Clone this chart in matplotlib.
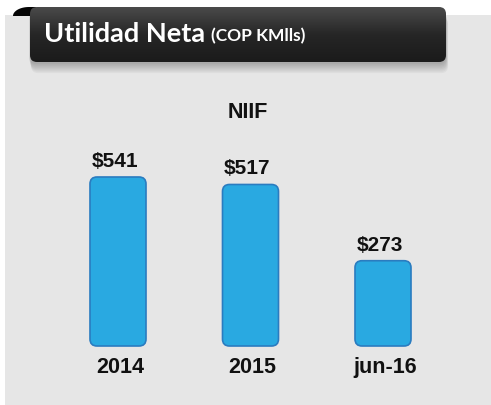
import numpy as np
import matplotlib
matplotlib.use("Agg")
import matplotlib.pyplot as plt
from matplotlib.patches import FancyBboxPatch, Rectangle, Polygon

# data
categories = ["2014", "2015", "jun-16"]
values = [541, 517, 273]
value_labels = ["$541", "$517", "$273"]
title = "Utilidad Neta"
subtitle = "(COP KMlls)"
series_name = "NIIF"

W, H = 491, 405
fig = plt.figure(figsize=(W / 100, H / 100), dpi=100)
fig.patch.set_facecolor("white")

# background decoration axes in pixel coords
bg = fig.add_axes([0, 0, 1, 1])
bg.set_xlim(0, W)
bg.set_ylim(H, 0)
bg.axis("off")

# gray panel
bg.add_patch(Rectangle((5, 15), W - 5, H - 15, facecolor="#e6e6e6", edgecolor="none", zorder=0))

# curl tab at top-left of the title box (quarter ellipse)
t = np.linspace(np.pi / 2, np.pi, 30)
tab = np.column_stack([29 + 16 * np.cos(t), 16 - 9 * np.sin(t)])
tab = np.vstack([[36, 7], tab, [36, 16]])
bg.add_patch(Polygon(tab, closed=True, facecolor="#050505", edgecolor="none", zorder=1))

# soft shadow under the title box
for k in range(8):
    bg.add_patch(FancyBboxPatch((29 + k * 0.3, 9 + k * 1.3), 417, 55,
                                boxstyle="round,pad=0,rounding_size=7",
                                facecolor="black", edgecolor="none", alpha=0.035, zorder=2))

# title box with vertical gradient
box = FancyBboxPatch((30, 7), 416, 55, boxstyle="round,pad=0,rounding_size=7",
                     facecolor="none", edgecolor="none", zorder=3)
bg.add_patch(box)
grad = np.linspace(0, 1, 100).reshape(-1, 1)
cmap = matplotlib.colors.LinearSegmentedColormap.from_list("tb", ["#4a4a4a", "#262626", "#1b1b1b"])
im = bg.imshow(grad, cmap=cmap, extent=(30, 446, 62, 7), aspect="auto", zorder=3)
im.set_clip_path(box)

t1 = bg.text(44, 41.7, title, color="white", fontsize=19.5, fontweight="bold",
             family="Lato", va="baseline", ha="left", zorder=4)
fig.canvas.draw()
r = t1.get_window_extent().x1
bg.text(r + 6, 41.7, subtitle, color="white", fontsize=12.5, fontweight="bold",
        family="Lato", va="baseline", ha="left", zorder=4)

bg.text(247.5, 117.5, series_name, color="#111111", fontsize=15.5, fontweight="bold",
        family="Liberation Sans", va="baseline", ha="center", zorder=4)

# chart axes: x=0 at px 118, 132.5 px per category; value 0 at px 346, 0.3124 px per unit
px_x, x0 = 132.5, 118
px_y, y0 = 0.3124, 346
ax = fig.add_axes([0, 0, 1, 1])
ax.patch.set_alpha(0)
ax.set_xlim(-x0 / px_x, (W - x0) / px_x)
ax.set_ylim(-(H - y0) / px_y, y0 / px_y)
ax.axis("off")

bar_w = 56 / px_x
aspect = (1 / px_y) / (1 / px_x)
for i, (v, lab, cat) in enumerate(zip(values, value_labels, categories)):
    ax.add_patch(FancyBboxPatch((i - bar_w / 2, 0), bar_w, v,
                                boxstyle="round,pad=0,rounding_size=%f" % (7 / px_x),
                                mutation_aspect=aspect,
                                facecolor="#29a9e1", edgecolor="#2a7cc0", linewidth=1.2))
    ax.annotate(lab, (i, v), xytext=(-2.5, 7.2), textcoords="offset points",
                ha="center", va="baseline", fontsize=15, fontweight="bold",
                family="Liberation Sans", color="#111111")
    ax.annotate(cat, (i, 0), xytext=(1.5, -19.2), textcoords="offset points",
                ha="center", va="baseline", fontsize=15.5, fontweight="bold",
                family="Liberation Sans", color="#111111")

fig.savefig("out.png", dpi=100)
